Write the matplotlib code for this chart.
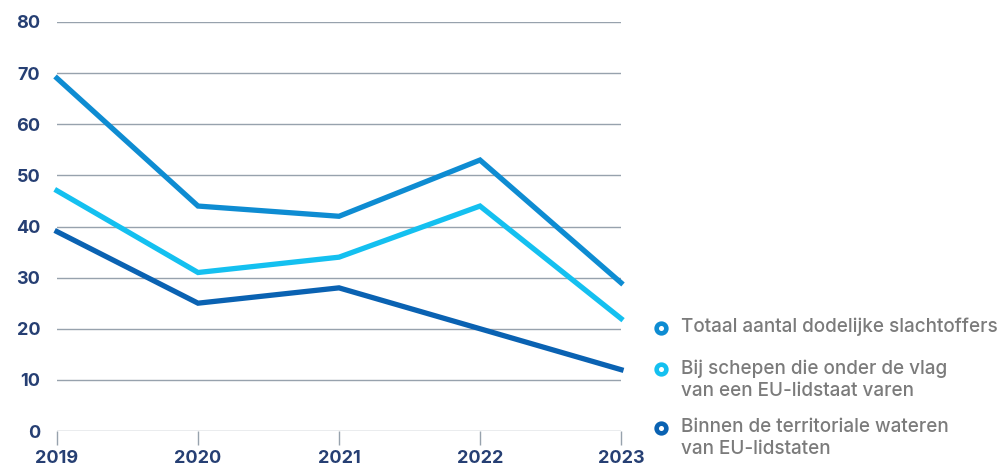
import matplotlib
matplotlib.use("Agg")
import matplotlib.pyplot as plt
from matplotlib.lines import Line2D

# Maritime fatalities per year
years = ["2019", "2020", "2021", "2022", "2023"]
totaal = [69, 44, 42, 53, 29]
eu_vlag = [47, 31, 34, 44, 22]
territoriaal = [39, 25, 28, 20, 12]

series_labels = [
    "Totaal aantal dodelijke slachtoffers",
    "Bij schepen die onder de vlag\nvan een EU-lidstaat varen",
    "Binnen de territoriale wateren\nvan EU-lidstaten",
]
colors = ["#0e8cd2", "#14c0f0", "#0a62b2"]

y_ticks = [0, 10, 20, 30, 40, 50, 60, 70, 80]

navy = "#263f73"
grid_c = "#97a2ad"
legend_c = "#7b7b7b"
font = ["Inter", "DejaVu Sans"]

fig = plt.figure(figsize=(10.05, 4.66), dpi=100)
ax = fig.add_axes([57 / 1005, 1 - 431 / 466, (621 - 57) / 1005, (431 - 22) / 466])

x = list(range(len(years)))
for vals, c in zip([totaal, eu_vlag, territoriaal], colors):
    ax.plot(x, vals, color=c, lw=3.8, solid_joinstyle="miter", zorder=3, clip_on=False)

ax.set_xlim(0, len(years) - 1)
ax.set_ylim(0, 80)
ax.set_yticks(y_ticks)
ax.set_yticklabels([str(v) for v in y_ticks])
ax.set_xticks(x)
ax.set_xticklabels(years)

for v in y_ticks:
    ax.axhline(v, color=grid_c, lw=1.0, zorder=1)

for s in ax.spines.values():
    s.set_visible(False)

ax.tick_params(axis="y", length=0, pad=12, labelcolor=navy, labelsize=13)
ax.tick_params(axis="x", length=10, width=1.0, color=grid_c, pad=4,
               labelcolor=navy, labelsize=13)
for lab in ax.get_xticklabels() + ax.get_yticklabels():
    lab.set_fontfamily(font)
    lab.set_fontweight("bold")
for lab in ax.get_yticklabels():
    lab.set_horizontalalignment("right")

# Legend built by hand so each marker lines up with the first text line
legend_rows = [328, 369, 428]
for lab, c, ypx in zip(series_labels, colors, legend_rows):
    yf = 1 - ypx / 466
    fig.add_artist(Line2D([661 / 1005], [yf], marker="o", markersize=7.0,
                          markeredgewidth=3.3, markeredgecolor=c,
                          markerfacecolor="white", linestyle="none",
                          transform=fig.transFigure))
    fig.text(681 / 1005, yf + 10 / 466, lab, ha="left", va="top",
             color=legend_c, fontsize=13.6, fontfamily=font,
             fontweight="medium", linespacing=1.32)

fig.savefig("out.png", dpi=100)
